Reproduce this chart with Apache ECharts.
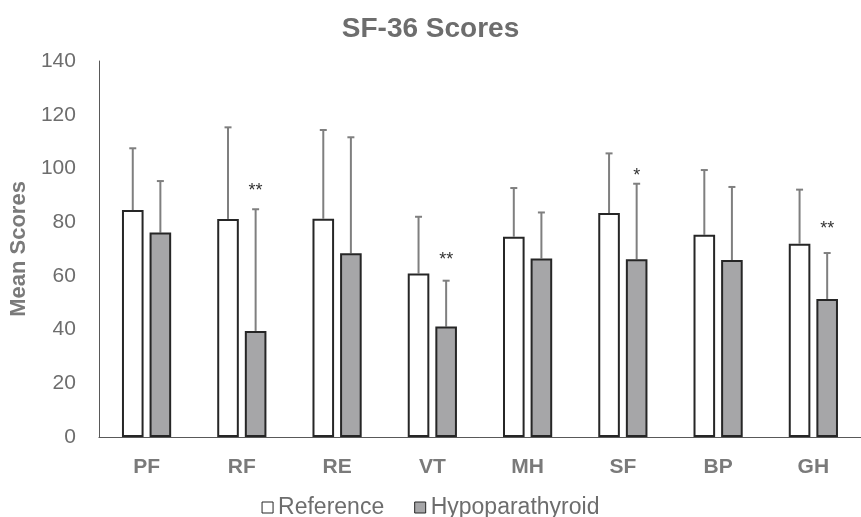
<!DOCTYPE html>
<html>
<head>
<meta charset="utf-8">
<script src="https://cdn.jsdelivr.net/npm/echarts@6/dist/echarts.min.js"></script>
<style>html,body{margin:0;padding:0;background:#fff}#c{width:861px;height:517px}</style>
</head>
<body>
<div id="c"></div>
<script>
const categories = ['PF', 'RF', 'RE', 'VT', 'MH', 'SF', 'BP', 'GH'];
const referenceMean = [84.5, 81.2, 81.3, 60.9, 74.6, 83.4, 75.3, 72.0];
const referenceSD = [23.0, 34.1, 33.0, 21.1, 18.1, 22.2, 24.1, 20.1];
const hypoMean = [76.1, 39.5, 68.4, 41.1, 66.5, 66.2, 65.9, 51.4];
const hypoSD = [19.2, 45.3, 43.2, 17.1, 17.1, 28.1, 27.2, 17.1];
const significance = ['', '**', '', '**', '', '*', '', '**'];
const significanceY = [null, 93.4, null, 67.7, null, 99.2, null, 79.2];
const yTicks = [0, 20, 40, 60, 80, 100, 120, 140];

const BAR_W = 21.6, GAP = 6;
const OFF = (BAR_W + GAP) / 2;
const font = 'Liberation Sans, Arial, sans-serif';

function errData(mean, sd) { return mean.map((m, i) => [i, m, sd[i]]); }
function errRender(offset) {
  return function (params, api) {
    const i = api.value(0), m = api.value(1), s = api.value(2);
    const p0 = api.coord([i, m]);
    const p1 = api.coord([i, m + s]);
    const x = p0[0] + offset;
    const st = { stroke: '#7f7f7f', lineWidth: 2 };
    return { type: 'group', children: [
      { type: 'line', shape: { x1: x, y1: p0[1], x2: x, y2: p1[1] }, style: st },
      { type: 'line', shape: { x1: x - 3.5, y1: p1[1], x2: x + 3.5, y2: p1[1] }, style: st }
    ]};
  };
}

const chart = echarts.init(document.getElementById('c'));
chart.setOption({
  animation: false,
  backgroundColor: '#fff',
  title: { text: 'SF-36 Scores', left: 'center', top: 10,
    textStyle: { fontFamily: font, fontSize: 28, fontWeight: 'bold', color: '#6d6d6d' } },
  grid: { left: 97, top: 61, width: 774, height: 376 },
  legend: {
    top: 491, left: 'center', itemWidth: 11, itemHeight: 11, itemGap: 30,
    textStyle: { fontFamily: font, fontSize: 23, color: '#6d6d6d' },
    data: [
      { name: 'Reference', icon: 'rect', itemStyle: { color: '#ffffff', borderColor: '#262626', borderWidth: 1 } },
      { name: 'Hypoparathyroid', icon: 'rect', itemStyle: { color: '#a6a6a8', borderColor: '#262626', borderWidth: 1 } }
    ]
  },
  xAxis: {
    type: 'category', data: categories,
    axisLine: { lineStyle: { color: '#595959', width: 1 } },
    axisTick: { show: false },
    axisLabel: { fontFamily: font, fontSize: 21, fontWeight: 'bold', color: '#7a7a7a', margin: 20 }
  },
  yAxis: {
    type: 'value', min: yTicks[0], max: yTicks[yTicks.length - 1], interval: 20,
    name: 'Mean Scores', nameLocation: 'middle', nameGap: 62, nameRotate: 90,
    nameTextStyle: { fontFamily: font, fontSize: 22, fontWeight: 'bold', color: '#7a7a7a' },
    axisLine: { show: true, lineStyle: { color: '#595959', width: 1 } },
    axisTick: { show: false },
    splitLine: { show: false },
    axisLabel: { fontFamily: font, fontSize: 21, color: '#6d6d6d', margin: 23 }
  },
  series: [
    { name: 'Reference', type: 'bar', data: referenceMean, barWidth: BAR_W, barGap: (GAP / BAR_W * 100) + '%',
      itemStyle: { color: '#ffffff', borderColor: '#262626', borderWidth: 2 } },
    { name: 'Hypoparathyroid', type: 'bar', data: hypoMean, barWidth: BAR_W,
      itemStyle: { color: '#a6a6a8', borderColor: '#262626', borderWidth: 2 } },
    { type: 'custom', renderItem: errRender(-OFF), data: errData(referenceMean, referenceSD), encode: { x: 0, y: 1 }, z: 1, silent: true },
    { type: 'custom', renderItem: errRender(OFF), data: errData(hypoMean, hypoSD), encode: { x: 0, y: 1 }, z: 1, silent: true },
    { type: 'custom', silent: true, z: 5,
      data: significance.map((s, i) => [i, significanceY[i] == null ? 0 : significanceY[i], s]).filter(d => d[2]),
      encode: { x: 0, y: 1 },
      renderItem: function (params, api) {
        const i = api.value(0), v = api.value(1);
        const p = api.coord([i, v]);
        return { type: 'text', style: { text: significance[i], x: p[0] + OFF, y: p[1] + 5,
          align: 'center', verticalAlign: 'middle', fill: '#333333', font: '18px ' + font } };
      }
    }
  ]
});
</script>
</body>
</html>
